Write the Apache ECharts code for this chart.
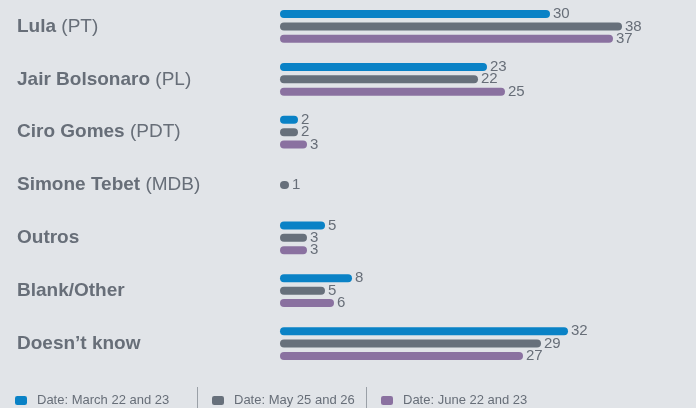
<!DOCTYPE html>
<html>
<head>
<meta charset="utf-8">
<script src="https://cdn.jsdelivr.net/npm/echarts@6/dist/echarts.min.js"></script>
<style>
html,body{margin:0;padding:0;background:#e1e4e8;}
#chart{width:696px;height:408px;}
</style>
</head>
<body>
<div id="chart"></div>
<script>
const names = ['Lula', 'Jair Bolsonaro', 'Ciro Gomes', 'Simone Tebet', 'Outros', 'Blank/Other', 'Doesn\u2019t know'];
const parties = ['(PT)', '(PL)', '(PDT)', '(MDB)', '', '', ''];
const seriesNames = ['Date: March 22 and 23', 'Date: May 25 and 26', 'Date: June 22 and 23'];
const march = [30, 23, 2, null, 5, 8, 32];
const may = [38, 22, 2, 1, 3, 5, 29];
const june = [37, 25, 3, null, 3, 6, 27];

const colors = ['#0a82c6', '#67707b', '#8a71a0'];
const textColor = '#676e78';
const font = 'Liberation Sans, Arial, sans-serif';

const chart = echarts.init(document.getElementById('chart'));
const values = [march, may, june];

function mkSeries(i) {
  return {
    name: seriesNames[i],
    type: 'bar',
    data: values[i],
    barWidth: 8,
    barGap: '55%',
    itemStyle: { color: colors[i], borderRadius: 4 },
    label: {
      show: true, position: 'right', distance: 3,
      color: textColor, fontSize: 15, fontFamily: font
    }
  };
}
function mkLegend(i, left) {
  return {
    data: [seriesNames[i]],
    left: left, top: 394,
    icon: 'roundRect', itemWidth: 12, itemHeight: 9,
    padding: 0,
    textStyle: { color: textColor, fontSize: 13, fontFamily: font, padding: [0, 0, 0, 5] }
  };
}

chart.setOption({
  backgroundColor: '#e1e4e8',
  animation: false,
  grid: { left: 280, top: -3, width: 360, height: 373 },
  xAxis: { type: 'value', min: 0, max: 40, show: false },
  yAxis: {
    type: 'category', data: names, inverse: true,
    axisLine: { show: false }, axisTick: { show: false },
    axisLabel: {
      align: 'left', margin: 263,
      formatter: function (v, idx) {
        const p = parties[idx];
        return '{b|' + v + '}' + (p ? '{n| ' + p + '}' : '');
      },
      rich: {
        b: { fontWeight: 'bold', fontSize: 19, color: textColor, fontFamily: font },
        n: { fontWeight: 'normal', fontSize: 19, color: textColor, fontFamily: font }
      }
    }
  },
  legend: [mkLegend(0, 15), mkLegend(1, 212), mkLegend(2, 381)],
  graphic: [
    { type: 'line', shape: { x1: 197.5, y1: 387, x2: 197.5, y2: 408 }, style: { stroke: '#9aa0a7', lineWidth: 1 } },
    { type: 'line', shape: { x1: 366.5, y1: 387, x2: 366.5, y2: 408 }, style: { stroke: '#9aa0a7', lineWidth: 1 } }
  ],
  series: [mkSeries(0), mkSeries(1), mkSeries(2)]
});
</script>
</body>
</html>
